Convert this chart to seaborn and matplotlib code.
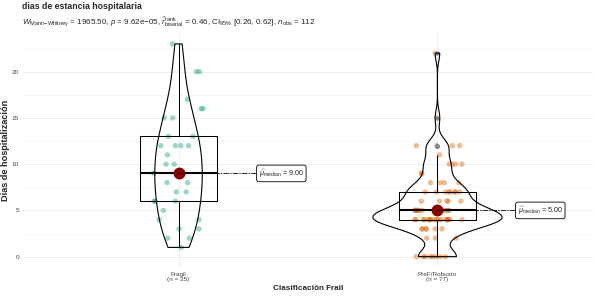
import numpy as np
import pandas as pd

import matplotlib
matplotlib.use('Agg')
import matplotlib.pyplot as plt
from matplotlib.ticker import MultipleLocator
import seaborn as sns

# dias de hospitalizacion por grupo
grupos = ['Fragil', 'PreF/Robusto']
fragil_dias = [1, 2, 2, 3, 3, 4, 4, 5, 6, 6, 6, 7, 7, 8, 8, 9, 9, 9, 10, 10,
               11, 12, 12, 12, 12, 13, 13, 15, 15, 16, 16, 17, 20, 20, 23]
robusto_dias = ([0] * 8 + [2] * 3 + [3] * 6 + [4] * 18 + [5] * 12 + [6] * 5 +
                [7] * 8 + [8] * 4 + [9] * 2 + [10] * 4 + [11] + [12] * 4 +
                [15] + [22])
colores = ['#1B9E77', '#D95F02']

titulo = 'dias de estancia hospitalaria'
subtitulo = (r'$W_{\mathrm{Mann\!-\!Whitney}}$ = 1965.50, $p$ = 9.62e$-$05, '
             r'$\widehat{r}_{\mathrm{biserial}}^{\mathrm{rank}}$ = 0.46, '
             r'CI$_{95\%}$ [0.26, 0.62], $n_{\mathrm{obs}}$ = 112')

df = pd.DataFrame({
    'grupo': ['Fragil'] * len(fragil_dias) + ['PreF/Robusto'] * len(robusto_dias),
    'dias': fragil_dias + robusto_dias,
})

sns.set_style('white')
plt.rcParams['font.family'] = ['Liberation Sans', 'DejaVu Sans']
plt.rcParams['mathtext.fontset'] = 'custom'
plt.rcParams['mathtext.rm'] = 'Liberation Sans'
plt.rcParams['mathtext.it'] = 'Liberation Sans:italic'
plt.rcParams['mathtext.bf'] = 'Liberation Sans:bold'


def nrd0(kde):
    # bandwidth como bw.nrd0 de R
    x = kde.dataset[0]
    sd = x.std(ddof=1)
    iqr = np.subtract(*np.percentile(x, [75, 25]))
    h = 0.9 * min(sd, iqr / 1.34) * len(x) ** -0.2
    return h / sd


fig, ax = plt.subplots(figsize=(5.94, 2.97), dpi=100)
fig.subplots_adjust(left=0.039, right=0.998, top=0.888, bottom=0.1)

np.random.seed(3)
sns.stripplot(data=df, x='grupo', y='dias', hue='grupo', order=grupos,
              palette=colores, jitter=0.1, size=3.9, alpha=0.42,
              linewidth=0, legend=False, ax=ax, zorder=1)
sns.boxplot(data=df, x='grupo', y='dias', order=grupos, fill=False,
            color='black', linecolor='black', width=0.3, linewidth=0.75,
            showcaps=False, fliersize=2.2,
            flierprops=dict(marker='o', markerfacecolor='#888888',
                            markeredgecolor='#888888'),
            medianprops=dict(linewidth=1.5), ax=ax, zorder=2)
sns.violinplot(data=df, x='grupo', y='dias', order=grupos, fill=False,
               color='black', linecolor='black', inner=None, cut=0,
               width=0.5, density_norm='area', bw_method=nrd0,
               linewidth=0.8, ax=ax, zorder=3)
sns.pointplot(data=df, x='grupo', y='dias', order=grupos, estimator='median',
              errorbar=None, color='#8B0000', linestyle='none', marker='o',
              markersize=6.5, ax=ax, zorder=5)

medianas = df.groupby('grupo')['dias'].median()
for i, g in enumerate(grupos):
    m = medianas[g]
    ax.annotate(r'$\widehat{\mu}_{\mathrm{median}}$ = ' + f'{m:.2f}',
                xy=(i, m), xytext=(i + 0.31, m), ha='left', va='center',
                fontsize=5.2,
                bbox=dict(boxstyle='round,pad=0.3,rounding_size=0.3',
                          fc='white', ec='black', lw=0.6),
                arrowprops=dict(arrowstyle='-', linestyle=(0, (6, 2, 1, 2)),
                                color='black', lw=0.6, shrinkA=0, shrinkB=0),
                zorder=6)

ns = df.groupby('grupo')['dias'].size()
ax.set_xticks(range(len(grupos)))
ax.set_xticklabels([f'{g}\n(n = {ns[g]})' for g in grupos], fontsize=4.6,
                   color='#444444', linespacing=1.0)
ax.set_xlim(-0.6, 1.6)
ax.set_ylim(-1.15, 24.15)
ax.yaxis.set_major_locator(MultipleLocator(5))
ax.yaxis.set_minor_locator(MultipleLocator(2.5))
ax.tick_params(axis='y', labelsize=4.6, labelcolor='#444444', length=2,
               width=0.5, color='#444444', pad=1)
ax.tick_params(axis='x', length=2, width=0.5, color='#444444', pad=1.5)
ax.tick_params(which='minor', length=0)
ax.grid(which='major', color='#ebebeb', linewidth=0.6)
ax.grid(which='minor', axis='y', color='#f3f3f3', linewidth=0.4)
ax.set_axisbelow(True)
for s in ax.spines.values():
    s.set_visible(False)

ax.set_xlabel('Clasificación Frail', fontsize=5.9, fontweight='bold', labelpad=2)
ax.set_ylabel('Dias de hospitalización', fontsize=6.6, fontweight='bold',
              labelpad=1.5)

fig.text(22 / 594, 1 - 2 / 297, titulo, fontsize=6.3, fontweight='bold',
         va='top', ha='left')
fig.text(22 / 594, 1 - 21 / 297, subtitulo, fontsize=5.8, va='center',
         ha='left')

fig.savefig('out.png', dpi=100)
